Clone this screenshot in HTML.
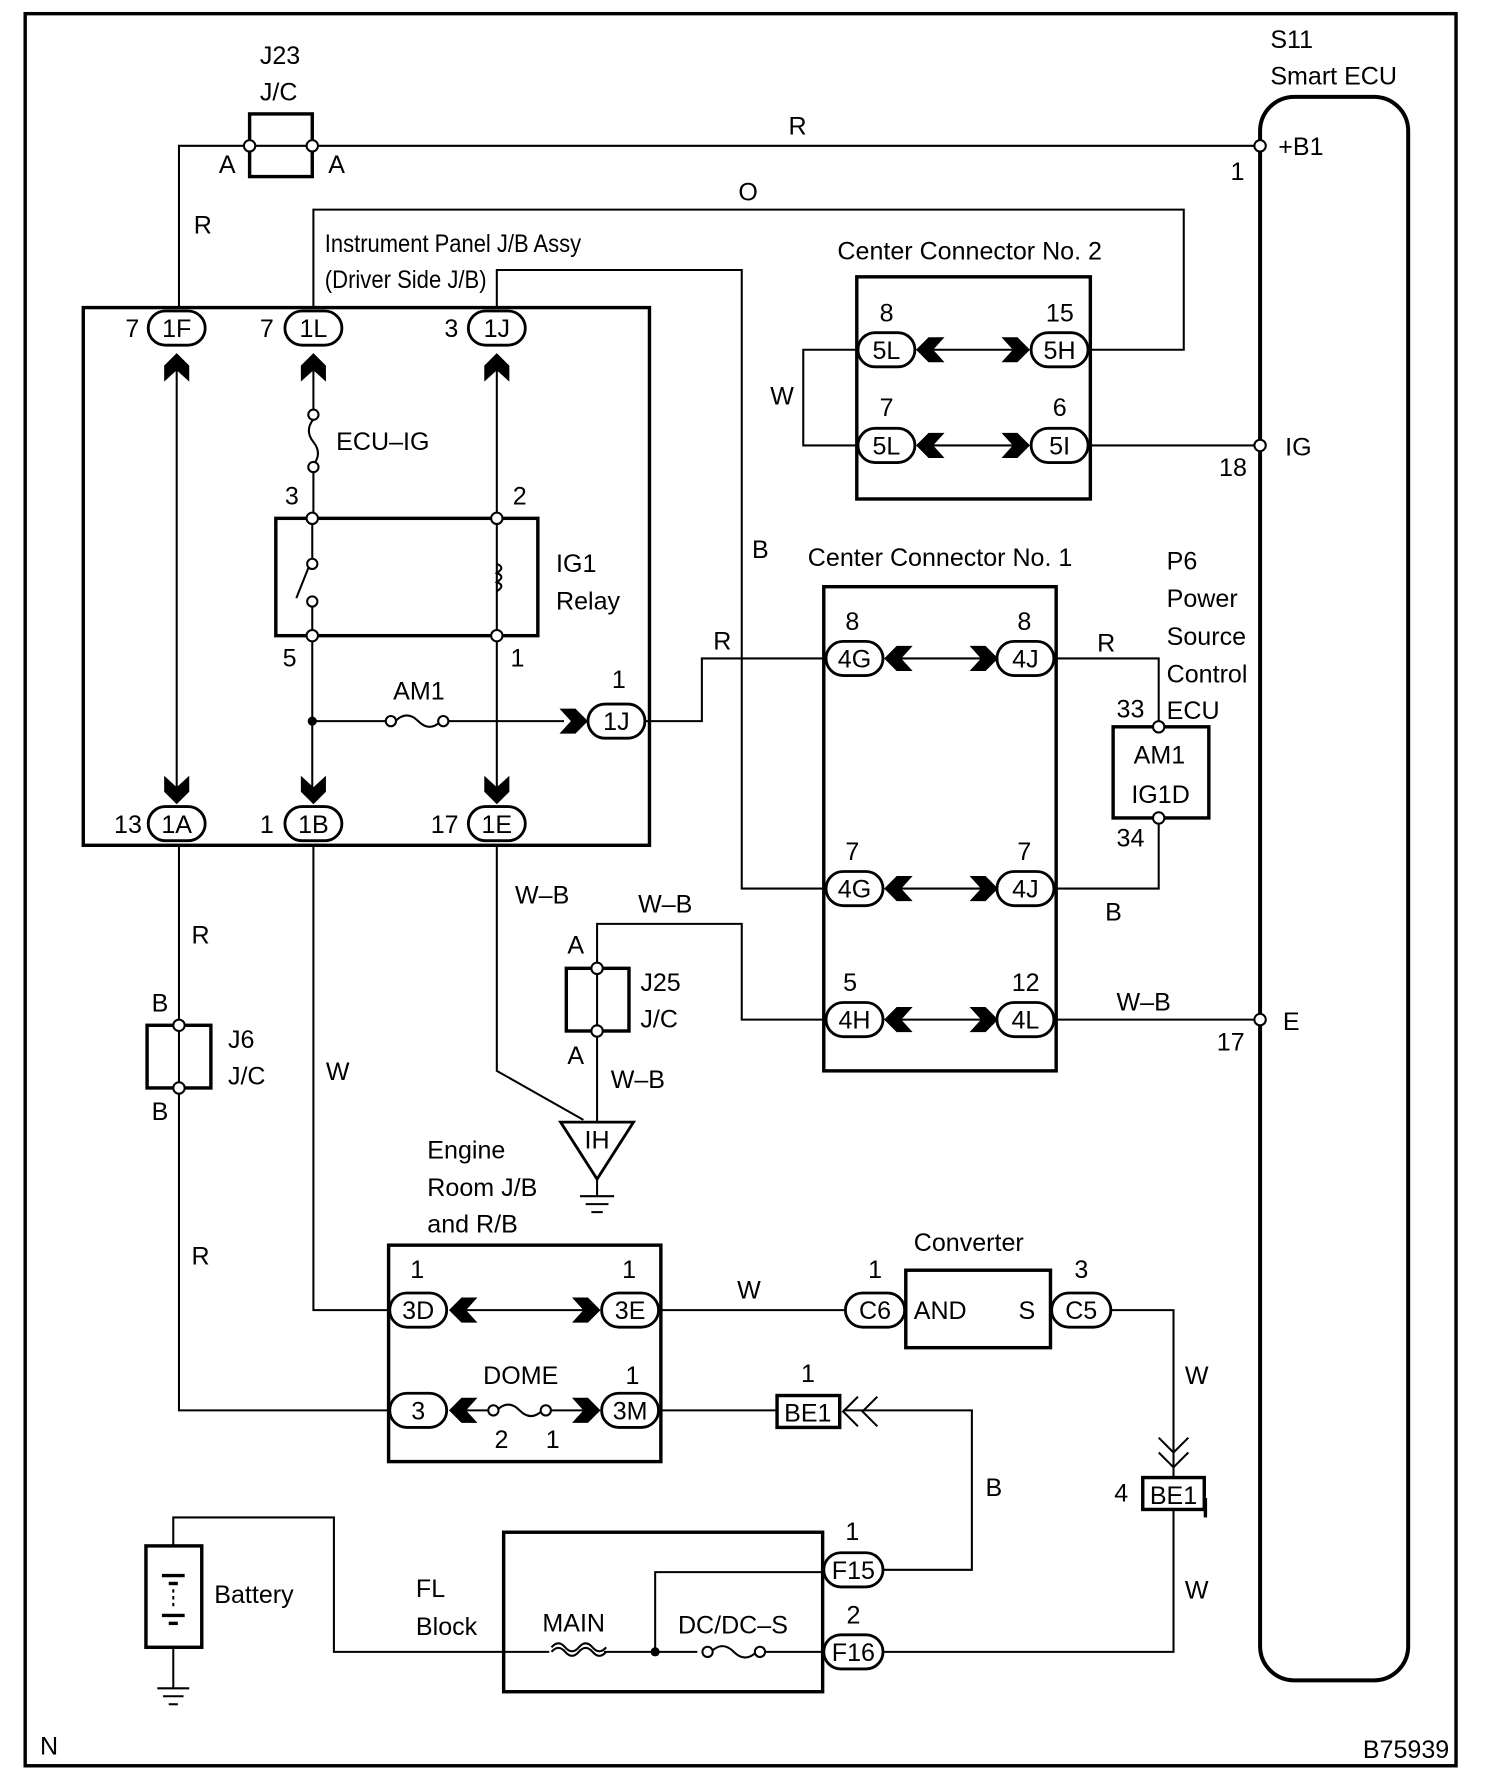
<!DOCTYPE html>
<html><head><meta charset="utf-8"><style>html,body{margin:0;padding:0;background:#fff}svg{display:block}text{font-family:"Liberation Sans",Arial,sans-serif;font-size:22px;fill:#000}</style></head><body>
<svg width="1504" height="1784" viewBox="0 0 1320 1566" xmlns="http://www.w3.org/2000/svg">
<defs>
<polygon id="cu" points="0,-14 11,-3 11,11 0,1 -11,11 -11,-3" fill="#000"/>
</defs>
<g fill="none" stroke="#000" stroke-width="1.8">
<rect x="22" y="12" width="1256" height="1538" stroke-width="3"/>
<rect x="1106" y="85" width="130" height="1390" rx="30" stroke-width="3.5"/>
<rect x="219" y="100" width="55" height="55" stroke-width="3"/>
<line x1="219" y1="128" x2="274" y2="128"/>
<polyline points="274,128 1106,128"/>
<polyline points="219,128 157,128 157,270"/>
<rect x="73" y="270" width="497" height="472" stroke-width="3"/>
<polyline points="275,270 275,184 1039,184 1039,307 957,307"/>
<polyline points="436,270 436,237 651,237 651,780 723,780"/>
<line x1="155" y1="320" x2="155" y2="700"/>
<line x1="275" y1="320" x2="275" y2="362"/>
<path d="M275 368 q-8 10 0 20 q8 10 0 20"/>
<line x1="275" y1="414" x2="275" y2="455"/>
<line x1="274" y1="455" x2="274" y2="492"/>
<line x1="260" y1="525" x2="272" y2="495"/>
<line x1="274" y1="532" x2="274" y2="700"/>
<line x1="436" y1="320" x2="436" y2="700"/>
<path d="M436 495 q8 3 0 8 q8 3 0 8 q8 3 0 8"/>
<rect x="242" y="455" width="230" height="103" stroke-width="3"/>
<line x1="274" y1="633" x2="340" y2="633"/>
<path d="M347 633 q10 -10 20 0 q10 10 20 0"/>
<line x1="392" y1="633" x2="495" y2="633"/>
<polyline points="566,633 616,633 616,578 723,578"/>
<rect x="752" y="243" width="205" height="195" stroke-width="3"/>
<line x1="815" y1="307" x2="895" y2="307"/><line x1="815" y1="391" x2="895" y2="391"/>
<polyline points="752,307 705,307 705,391 752,391"/>
<line x1="957" y1="391" x2="1106" y2="391"/>
<rect x="723" y="515" width="204" height="425" stroke-width="3"/>
<line x1="785" y1="578" x2="865" y2="578"/><line x1="785" y1="780" x2="865" y2="780"/><line x1="785" y1="895" x2="865" y2="895"/>
<polyline points="927,578 1017,578 1017,638"/>
<polyline points="927,780 1017,780 1017,718"/>
<line x1="927" y1="895" x2="1106" y2="895"/>
<rect x="977" y="638" width="84" height="80" stroke-width="3"/>
<polyline points="723,895 651,895 651,811 524,811 524,850"/>
<rect x="497" y="850" width="55" height="55" stroke-width="3"/>
<line x1="524" y1="850" x2="524" y2="905"/>
<line x1="524" y1="905" x2="524" y2="985"/>
<polyline points="436,742 436,940 512,983"/>
<polygon points="492,985 556,985 524,1035" stroke-width="2.5"/>
<line x1="524" y1="1035" x2="524" y2="1050"/>
<line x1="509" y1="1050" x2="539" y2="1050"/><line x1="514" y1="1057" x2="534" y2="1057"/><line x1="519" y1="1064" x2="529" y2="1064"/>
<line x1="157" y1="742" x2="157" y2="900"/>
<rect x="129" y="900" width="56" height="55" stroke-width="3"/>
<line x1="157" y1="900" x2="157" y2="955"/>
<polyline points="157,955 157,1238 342,1238"/>
<polyline points="275,742 275,1150 342,1150"/>
<rect x="341" y="1093" width="239" height="190" stroke-width="3"/>
<line x1="405" y1="1150" x2="515" y2="1150"/>
<line x1="405" y1="1238" x2="430" y2="1238"/>
<path d="M436 1238 q10 -10 20 0 q10 10 20 0"/>
<line x1="482" y1="1238" x2="515" y2="1238"/>
<line x1="580" y1="1150" x2="742" y2="1150"/>
<rect x="795" y="1115" width="127" height="68" stroke-width="3"/>
<polyline points="975,1150 1030,1150 1030,1297"/>
<polyline points="1017,1262 1030,1275 1043,1262"/><polyline points="1017,1275 1030,1288 1043,1275"/>
<rect x="1003" y="1297" width="54" height="28" stroke-width="3"/>
<line x1="1058" y1="1315" x2="1058" y2="1332" stroke-width="3"/>
<polyline points="1030,1325 1030,1450 775,1450"/>
<line x1="580" y1="1238" x2="682" y2="1238"/>
<rect x="682" y="1225" width="55" height="28" stroke-width="3"/>
<polyline points="753,1226 740,1239 753,1252"/><polyline points="770,1226 757,1239 770,1252"/>
<polyline points="740,1238 853,1238 853,1378 775,1378"/>
<rect x="442" y="1345" width="280" height="140" stroke-width="3"/>
<line x1="442" y1="1450" x2="482" y2="1450"/>
<path d="M484 1450 q6 -7 12 0 t12 0 t12 0 t12 0"/>
<path d="M484 1446 q6 -7 12 0 t12 0 t12 0 t12 0"/>
<line x1="530" y1="1450" x2="612" y2="1450"/>
<polyline points="575,1450 575,1380 722,1380"/>
<path d="M624 1450 q10 -10 20 0 q10 10 20 0"/>
<line x1="670" y1="1450" x2="722" y2="1450"/>
<rect x="128" y="1357" width="49" height="89" stroke-width="3"/>
<polyline points="152,1357 152,1332 293,1332 293,1450 442,1450"/>
<line x1="142" y1="1383" x2="162" y2="1383" stroke-width="3"/><line x1="148" y1="1390" x2="156" y2="1390" stroke-width="3"/>
<line x1="152" y1="1395" x2="152" y2="1412" stroke-dasharray="3,3"/>
<line x1="142" y1="1418" x2="162" y2="1418" stroke-width="3"/><line x1="148" y1="1425" x2="156" y2="1425" stroke-width="3"/>
<line x1="152" y1="1446" x2="152" y2="1482"/>
<line x1="138" y1="1482" x2="166" y2="1482"/><line x1="143" y1="1489" x2="161" y2="1489"/><line x1="148" y1="1496" x2="156" y2="1496"/>
</g>
<g fill="#fff" stroke="#000" stroke-width="1.8">
<circle cx="219" cy="128" r="5"/><circle cx="274" cy="128" r="5"/><circle cx="1106" cy="128" r="5"/><circle cx="1106" cy="391" r="5"/><circle cx="1106" cy="895" r="5"/>
<circle cx="275" cy="364" r="4.5"/><circle cx="275" cy="410" r="4.5"/>
<circle cx="274" cy="455" r="5"/><circle cx="436" cy="455" r="5"/><circle cx="274" cy="558" r="5"/><circle cx="436" cy="558" r="5"/>
<circle cx="274" cy="495" r="4.5"/><circle cx="274" cy="528" r="4.5"/>
<circle cx="343" cy="633" r="4.5"/><circle cx="389" cy="633" r="4.5"/>
<circle cx="1017" cy="638" r="5"/><circle cx="1017" cy="718" r="5"/>
<circle cx="524" cy="850" r="5"/><circle cx="524" cy="905" r="5"/>
<circle cx="157" cy="900" r="5"/><circle cx="157" cy="955" r="5"/>
<circle cx="433" cy="1238" r="4.5"/><circle cx="479" cy="1238" r="4.5"/>
<circle cx="621" cy="1450" r="4.5"/><circle cx="667" cy="1450" r="4.5"/>
</g>
<circle cx="274" cy="633" r="4" fill="#000"/><circle cx="575" cy="1450" r="4" fill="#000"/>
<use href="#cu" transform="translate(155,324)"/><use href="#cu" transform="translate(275,324)"/><use href="#cu" transform="translate(436,324)"/>
<use href="#cu" transform="translate(155,692) rotate(180)"/><use href="#cu" transform="translate(275,692) rotate(180)"/><use href="#cu" transform="translate(436,692) rotate(180)"/>
<use href="#cu" transform="translate(502,633) rotate(90)"/>
<use href="#cu" transform="translate(818,307) rotate(-90)"/><use href="#cu" transform="translate(890,307) rotate(90)"/>
<use href="#cu" transform="translate(818,391) rotate(-90)"/><use href="#cu" transform="translate(890,391) rotate(90)"/>
<use href="#cu" transform="translate(790,578) rotate(-90)"/><use href="#cu" transform="translate(862,578) rotate(90)"/>
<use href="#cu" transform="translate(790,780) rotate(-90)"/><use href="#cu" transform="translate(862,780) rotate(90)"/>
<use href="#cu" transform="translate(790,895) rotate(-90)"/><use href="#cu" transform="translate(862,895) rotate(90)"/>
<use href="#cu" transform="translate(408,1150) rotate(-90)"/><use href="#cu" transform="translate(513,1150) rotate(90)"/>
<use href="#cu" transform="translate(408,1238) rotate(-90)"/><use href="#cu" transform="translate(513,1238) rotate(90)"/>
<g fill="#fff" stroke="#000" stroke-width="2.5">
<rect x="130" y="273" width="50" height="30" rx="15"/><rect x="250" y="273" width="50" height="30" rx="15"/><rect x="411" y="273" width="50" height="30" rx="15"/>
<rect x="130" y="708" width="50" height="30" rx="15"/><rect x="250" y="708" width="50" height="30" rx="15"/><rect x="411" y="708" width="50" height="30" rx="15"/>
<rect x="516" y="618" width="50" height="30" rx="15"/>
<rect x="753" y="292" width="50" height="30" rx="15"/><rect x="905" y="292" width="50" height="30" rx="15"/>
<rect x="753" y="376" width="50" height="30" rx="15"/><rect x="905" y="376" width="50" height="30" rx="15"/>
<rect x="725" y="563" width="50" height="30" rx="15"/><rect x="875" y="563" width="50" height="30" rx="15"/>
<rect x="725" y="765" width="50" height="30" rx="15"/><rect x="875" y="765" width="50" height="30" rx="15"/>
<rect x="725" y="880" width="50" height="30" rx="15"/><rect x="875" y="880" width="50" height="30" rx="15"/>
<rect x="342" y="1135" width="50" height="30" rx="15"/><rect x="528" y="1135" width="50" height="30" rx="15"/>
<rect x="342" y="1223" width="50" height="30" rx="15"/><rect x="528" y="1223" width="50" height="30" rx="15"/>
<rect x="742" y="1135" width="52" height="30" rx="15"/><rect x="923" y="1135" width="52" height="30" rx="15"/>
<rect x="723" y="1363" width="52" height="30" rx="15"/><rect x="723" y="1435" width="52" height="30" rx="15"/>
</g>
<g text-anchor="middle">
<text x="155" y="296">1F</text><text x="275" y="296">1L</text><text x="436" y="296">1J</text>
<text x="155" y="731">1A</text><text x="275" y="731">1B</text><text x="436" y="731">1E</text>
<text x="541" y="641">1J</text>
<text x="778" y="315">5L</text><text x="930" y="315">5H</text><text x="778" y="399">5L</text><text x="930" y="399">5I</text>
<text x="750" y="586">4G</text><text x="900" y="586">4J</text><text x="750" y="788">4G</text><text x="900" y="788">4J</text><text x="750" y="903">4H</text><text x="900" y="903">4L</text>
<text x="367" y="1158">3D</text><text x="553" y="1158">3E</text><text x="367" y="1246">3</text><text x="553" y="1246">3M</text>
<text x="768" y="1158">C6</text><text x="949" y="1158">C5</text>
<text x="749" y="1386">F15</text><text x="749" y="1458">F16</text>
<text x="709" y="1248">BE1</text><text x="1030" y="1320">BE1</text>
<text x="524" y="1008" font-size="20">IH</text>
</g>
<text x="1115" y="42">S11</text><text x="1115" y="74">Smart ECU</text>
<text x="1122" y="136">+B1</text><text x="1080" y="158">1</text>
<text x="1128" y="400">IG</text><text x="1070" y="418">18</text>
<text x="1126" y="904">E</text><text x="1068" y="922">17</text>
<text x="228" y="56">J23</text><text x="228" y="88">J/C</text>
<text x="192" y="152">A</text><text x="288" y="152">A</text>
<text x="692" y="118">R</text><text x="170" y="205">R</text><text x="648" y="176">O</text>
<text x="285" y="221" font-size="17" textLength="225" lengthAdjust="spacingAndGlyphs">Instrument Panel J/B Assy</text>
<text x="285" y="253" font-size="17" textLength="142" lengthAdjust="spacingAndGlyphs">(Driver Side J/B)</text>
<text x="110" y="296">7</text><text x="228" y="296">7</text><text x="390" y="296">3</text>
<text x="100" y="731">13</text><text x="228" y="731">1</text><text x="378" y="731">17</text>
<text x="295" y="395">ECU–IG</text>
<text x="250" y="443">3</text><text x="450" y="443">2</text><text x="248" y="585">5</text><text x="448" y="585">1</text>
<text x="488" y="502">IG1</text><text x="488" y="535">Relay</text>
<text x="345" y="614">AM1</text><text x="537" y="604">1</text>
<text x="660" y="490">B</text>
<text x="735" y="228">Center Connector No. 2</text>
<text x="772" y="282">8</text><text x="918" y="282">15</text><text x="772" y="365">7</text><text x="924" y="365">6</text>
<text x="676" y="355">W</text>
<text x="709" y="497">Center Connector No. 1</text>
<text x="742" y="553">8</text><text x="893" y="553">8</text><text x="742" y="755">7</text><text x="893" y="755">7</text><text x="740" y="870">5</text><text x="888" y="870">12</text>
<text x="626" y="570">R</text><text x="963" y="572">R</text><text x="970" y="808">B</text><text x="980" y="887">W–B</text>
<text x="1024" y="500">P6</text><text x="1024" y="533">Power</text><text x="1024" y="566">Source</text><text x="1024" y="599">Control</text><text x="1024" y="631">ECU</text>
<text x="980" y="630">33</text><text x="980" y="743">34</text>
<text x="995" y="670">AM1</text><text x="993" y="705">IG1D</text>
<text x="452" y="793">W–B</text><text x="560" y="801">W–B</text><text x="536" y="955">W–B</text>
<text x="498" y="837">A</text><text x="498" y="934">A</text><text x="562" y="870">J25</text><text x="562" y="902">J/C</text>
<text x="168" y="828">R</text><text x="133" y="888">B</text><text x="133" y="983">B</text><text x="200" y="920">J6</text><text x="200" y="952">J/C</text>
<text x="286" y="948">W</text><text x="168" y="1110">R</text>
<text x="375" y="1017">Engine</text><text x="375" y="1050">Room J/B</text><text x="375" y="1082">and R/B</text>
<text x="360" y="1122">1</text><text x="546" y="1122">1</text><text x="424" y="1215">DOME</text><text x="549" y="1215">1</text>
<text x="434" y="1271">2</text><text x="479" y="1271">1</text>
<text x="647" y="1140">W</text><text x="762" y="1122">1</text><text x="802" y="1098">Converter</text><text x="802" y="1158">AND</text><text x="894" y="1158">S</text><text x="943" y="1122">3</text>
<text x="1040" y="1215">W</text><text x="978" y="1318">4</text><text x="1040" y="1403">W</text>
<text x="703" y="1213">1</text><text x="865" y="1313">B</text>
<text x="742" y="1352">1</text><text x="743" y="1425">2</text>
<text x="365" y="1402">FL</text><text x="365" y="1435">Block</text>
<text x="476" y="1432">MAIN</text><text x="595" y="1434">DC/DC–S</text>
<text x="188" y="1407">Battery</text>
<text x="35" y="1540" font-size="14">N</text><text x="1272" y="1543" font-size="13" text-anchor="end">B75939</text>
</svg>
</body></html>
